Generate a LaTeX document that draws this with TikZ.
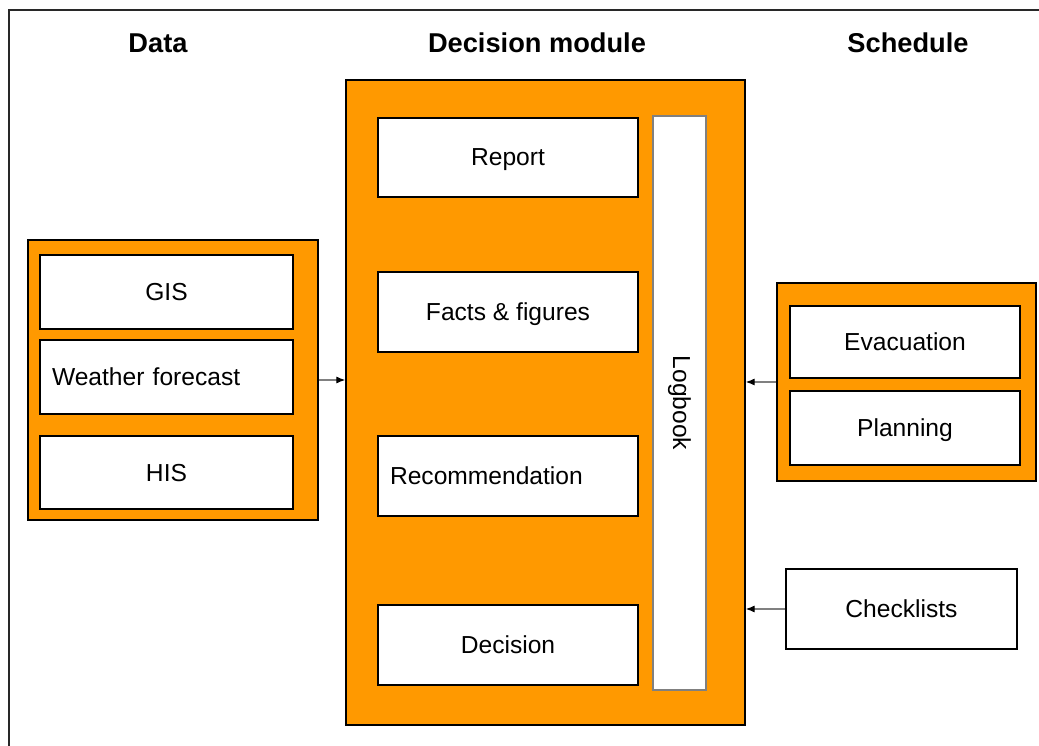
\documentclass[tikz,border=0pt]{standalone}
\usepackage{fontspec}
\setmainfont{Liberation Sans}
\usetikzlibrary{arrows.meta}
\definecolor{dmorange}{RGB}{255,153,0}
\definecolor{dmgray}{RGB}{128,128,128}
\definecolor{dmframe}{RGB}{40,40,40}

\tikzset{
  group/.style={draw=black, line width=1pt, fill=dmorange},
  item/.style={draw=black, line width=1pt, fill=white,
    font=\fontsize{14}{16}\selectfont, inner sep=0pt, text depth=0pt},
  heading/.style={font=\bfseries\fontsize{15.5}{18}\selectfont},
  feed/.style={dmgray, line width=0.6pt, -{Latex[black, length=5pt, width=4pt]}}
}

\begin{document}
\begin{tikzpicture}[x=0.02cm, y=-0.02cm]
  \useasboundingbox (0,0) rectangle (1039,746);
  \draw[dmframe, line width=1.2pt] %
    (9,746) -- (9,10) -- (1039,10);

  % headings
  \node[heading] (hdata) at (158,43) {Data};
  \node[heading] (hdm) at (537,43) {Decision module};
  \node[heading] (hsched) at (908,43) {Schedule};

  % decision module
  \node[group, minimum width=7.98cm, minimum height=12.9cm] (dm) at (545.5,402.5) {};
  \node[item, minimum width=5.2cm, minimum height=1.58cm] (report) at (508,157.5) {Report};
  \node[item, minimum width=5.2cm, minimum height=1.6cm] (facts) at (508,312) {Facts \& figures};
  \node[item, text width=4.72cm, align=left, inner xsep=0.24cm, minimum height=1.6cm] %
    (recom) at (508,476) {Recommendation};
  \node[item, minimum width=5.2cm, minimum height=1.6cm] (decision) at (508,645) {Decision};
  \node[item, draw=dmgray, minimum width=1.06cm, minimum height=11.48cm] (logbook) at (679.5,403) {};
  \node[font=\fontsize{14}{16}\selectfont, rotate=-90] (logtext) at (logbook.center) {Logbook};

  % data
  \node[group, minimum width=5.8cm, minimum height=5.6cm] (data) at (173,380) {};
  \node[item, minimum width=5.06cm, minimum height=1.48cm] (gis) at (166.5,292) {GIS};
  \node[item, text width=4.58cm, align=left, inner xsep=0.24cm, minimum height=1.48cm] %
    (weather) at (166.5,377) {Weather forecast};
  \node[item, minimum width=5.06cm, minimum height=1.46cm] (his) at (166.5,472.5) {HIS};

  % schedule
  \node[group, minimum width=5.18cm, minimum height=3.96cm] (sched) at (906.5,382) {};
  \node[item, minimum width=4.6cm, minimum height=1.44cm] (evac) at (905,342) {Evacuation};
  \node[item, minimum width=4.6cm, minimum height=1.48cm] (plan) at (905,428) {Planning};
  \node[item, minimum width=4.62cm, minimum height=1.6cm] (check) at (901.5,609) {Checklists};

  \draw[feed] (data.east) -- (data.east -| dm.west);
  \draw[feed] (sched.west) -- (sched.west -| dm.east);
  \draw[feed] (check.west) -- (check.west -| dm.east);
\end{tikzpicture}
\end{document}
